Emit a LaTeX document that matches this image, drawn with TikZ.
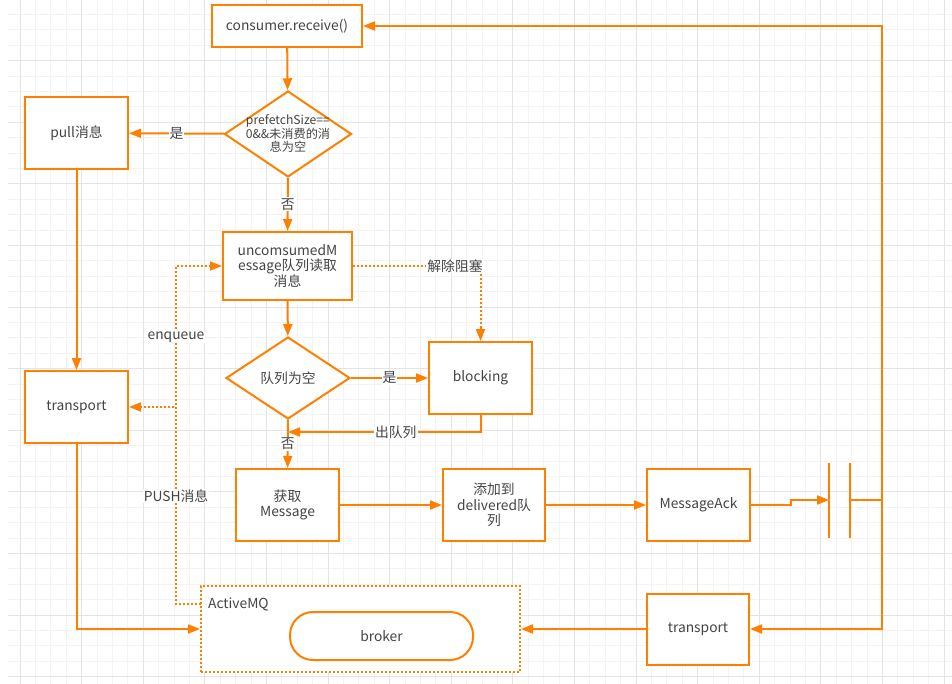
\documentclass[tikz,border=0pt]{standalone}
\usepackage{fontspec}
\setmainfont{Noto Sans CJK SC}
\usetikzlibrary{shapes.geometric,arrows.meta}
\definecolor{og}{RGB}{255,128,0}
\definecolor{tx}{RGB}{68,68,68}
\definecolor{gminor}{RGB}{243,243,243}
\definecolor{gmajor}{RGB}{228,228,228}
\newcommand\fsA{\fontsize{13.8}{15.5}\selectfont}
\newcommand\fsB{\fontsize{12.2}{13.5}\selectfont}
\tikzset{
  box/.style={draw=og, line width=2pt, fill=white, minimum width=103pt, minimum height=72pt, inner sep=0pt, align=center, text=tx, font=\fsA},
  diam/.style={diamond, draw=og, line width=2pt, fill=white, inner sep=0pt},
  txt/.style={text=tx, font=\fsA, align=center, inner sep=0pt},
  lab/.style={text=tx, font=\fsA, fill=white, inner sep=1pt},
  ln/.style={draw=og, line width=2pt},
  arr/.style={ln, -{Triangle[length=12pt,width=9pt]}},
  darr/.style={draw=og, line width=2pt, dash pattern=on 2pt off 2pt, -{Triangle[length=12pt,width=9pt]}},
}
\begin{document}
\begin{tikzpicture}[x=1pt,y=-1pt]
\useasboundingbox (0,0) rectangle (952,684);
\fill[white] (0,0) rectangle (952,684);
% grid
\foreach \k in {0,...,60} {\draw[gminor, line width=1pt] ({20+15.4*\k},0) -- ({20+15.4*\k},684);}
\foreach \k in {1,...,44} {\draw[gminor, line width=1pt] (8,{-0.9+15.4*\k}) -- (952,{-0.9+15.4*\k});}
\foreach \k in {0,4,...,60} {\draw[gmajor, line width=1pt] ({20+15.4*\k},0) -- ({20+15.4*\k},684);}
\foreach \k in {4,8,...,44} {\draw[gmajor, line width=1pt] (8,{-0.9+15.4*\k}) -- (952,{-0.9+15.4*\k});}

% nodes
\node[box, minimum width=150pt, minimum height=42pt] (recv) at (287,26) {consumer.receive()};
\node[diam, minimum width=127pt, minimum height=86pt] (d1) at (288,134) {};
\node[txt, font=\fsB] at (d1) {prefetchSize==\\0\&\&未消费的消\\息为空};
\node[box] (pull) at (76.5,133) {pull消息};
\node[box, minimum width=129pt, minimum height=68pt] (unc) at (287.5,266) {uncomsumedM\\essage队列读取\\消息};
\node[diam, minimum width=124pt, minimum height=82pt] (d2) at (288,378) {};
\node[txt] at (d2) {队列为空};
\node[box] (blk) at (480.5,378) {blocking};
\node[box] (tr1) at (76.5,407) {transport};
\node[box] (get) at (287.5,505) {获取\\Message};
\node[box, minimum width=102pt] (add) at (494,505) {添加到\\delivered队\\列};
\node[box] (ack) at (698.5,505) {MessageAck};
\node[box, minimum width=102pt, minimum height=71pt] (tr2) at (698,629) {transport};
\node[draw=og, line width=2pt, dash pattern=on 2pt off 2pt, fill=white, minimum width=319pt, minimum height=86pt, inner sep=0pt] (amq) at (360.5,629) {};
\node[txt, anchor=west] at (208,604) {ActiveMQ};
\node[draw=og, line width=2pt, fill=white, rounded corners=23pt, minimum width=183pt, minimum height=48pt, inner sep=0pt, text=tx, font=\fsA] (broker) at (381.5,636) {broker};

\coordinate (amqin) at (201,604);
\coordinate (join) at (288,432);
\coordinate (capL) at (829,500);
\coordinate (capR) at (850,500);
\coordinate (j) at (882,500);

% connectors
\draw[arr] (recv) -- (d1);
\draw[arr] (d1) -- node[lab]{是} (pull);
\draw[arr] (d1) -- node[lab]{否} (unc);
\draw[arr] (unc) -- (d2);
\draw[arr] (d2) -- node[lab]{是} (blk);
\draw[arr] (d2) -- node[lab]{否} (get);
\draw[arr] (blk.south) |- node[lab, pos=0.72]{出队列} (join);
\draw[darr] (unc.east) -| node[lab, pos=0.4]{解除阻塞} (blk.north);
\draw[arr] (get) -- (add);
\draw[arr] (add) -- (ack);
\draw[arr] (ack.east) -- ++(40,0) -- ++(0,-5) -- (capL);
\draw[ln] (829,463) -- (829,538);
\draw[ln] (850,463) -- (850,538);
\draw[ln] (capR) -- (j);
\draw[arr] (j) |- (recv.east);
\draw[arr] (j) |- (tr2.east);
\draw[arr] (tr2) -- (amq);
\draw[arr] (pull) -- (tr1);
\draw[arr] (tr1.south) |- (amq.west);
\draw[darr] (amqin) -- ++(-25,0) |- node[lab, pos=0.395]{enqueue} (unc.west);
\draw[darr] (amqin) -- ++(-25,0) |- node[lab, pos=0.274]{PUSH消息} (tr1.east);
\end{tikzpicture}
\end{document}
